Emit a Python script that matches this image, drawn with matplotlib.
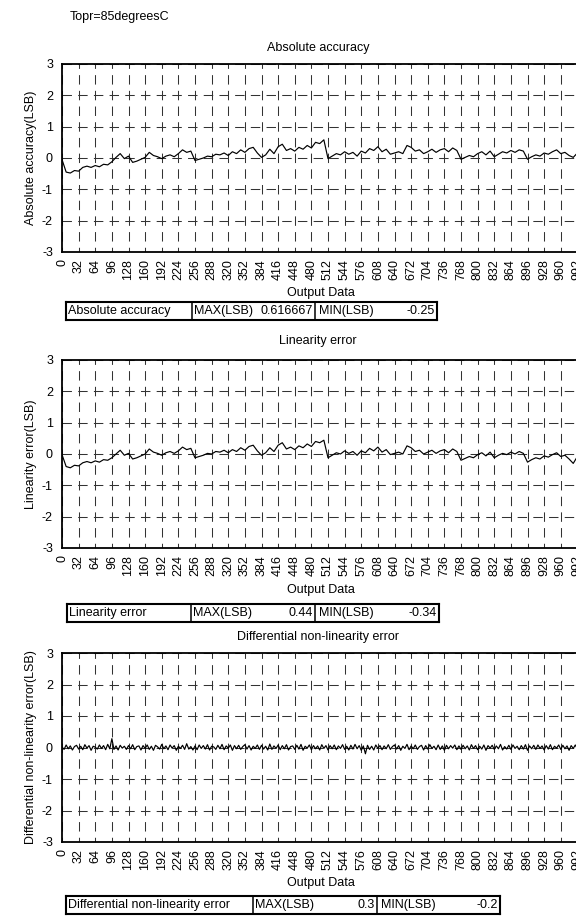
import numpy as np
import matplotlib
matplotlib.use("Agg")
import matplotlib.pyplot as plt

plt.rcParams['font.family'] = ['Liberation Sans', 'DejaVu Sans']
plt.rcParams['lines.scale_dashes'] = False
plt.rcParams['axes.unicode_minus'] = False

# ---- data ----
codes8 = np.arange(0, 1024, 8)
codes4 = np.arange(0, 1024, 4)

abs_acc = [
    -0.05, -0.45, -0.48, -0.40, -0.42, -0.30, -0.26, -0.30, -0.24, -0.28, -0.20, -0.22, -0.12, 0.02, 0.14, -0.02,
    0.06, -0.14, -0.10, -0.04, 0.02, 0.18, 0.08, 0.04, -0.02, 0.06, 0.10, 0.04, 0.14, 0.26, 0.18, 0.22,
    -0.08, -0.04, 0.00, 0.06, 0.04, 0.12, 0.10, 0.16, 0.08, 0.20, 0.14, 0.26, 0.18, 0.30, 0.34, 0.16,
    0.02, 0.10, 0.28, 0.14, 0.36, 0.44, 0.24, 0.30, 0.22, 0.34, 0.28, 0.40, 0.32, 0.50, 0.46, 0.58,
    -0.02, 0.06, 0.14, 0.10, 0.20, 0.12, 0.18, 0.06, 0.22, 0.16, 0.30, 0.24, 0.36, 0.20, 0.28, 0.12,
    0.16, 0.20, 0.14, 0.40, 0.34, 0.22, 0.26, 0.14, 0.20, 0.28, 0.18, 0.26, 0.30, 0.20, 0.32, 0.24,
    -0.04, 0.02, 0.08, 0.04, 0.14, 0.20, 0.10, 0.22, 0.04, 0.12, 0.20, 0.16, 0.24, 0.18, 0.26, 0.22,
    -0.04, 0.04, 0.10, 0.06, 0.16, 0.12, 0.20, 0.26, 0.14, 0.18, 0.08, 0.02, 0.16, 0.20, 0.14, 0.22,
]

lin_err = [
    -0.02, -0.40, -0.44, -0.36, -0.38, -0.28, -0.24, -0.28, -0.22, -0.26, -0.18, -0.20, -0.12, 0.00, 0.12, -0.04,
    0.02, -0.16, -0.12, -0.06, 0.00, 0.16, 0.06, 0.02, -0.04, 0.04, 0.08, 0.02, 0.10, 0.22, 0.14, 0.18,
    -0.12, -0.08, -0.04, 0.02, 0.00, 0.08, 0.06, 0.12, 0.04, 0.14, 0.08, 0.20, 0.12, 0.24, 0.28, 0.10,
    -0.04, 0.04, 0.20, 0.08, 0.28, 0.36, 0.16, 0.22, 0.14, 0.26, 0.20, 0.32, 0.24, 0.40, 0.36, 0.44,
    -0.12, -0.04, 0.04, 0.00, 0.10, 0.02, 0.08, -0.04, 0.10, 0.04, 0.18, 0.10, 0.22, 0.06, 0.14, -0.02,
    0.02, 0.06, 0.00, 0.26, 0.20, 0.08, 0.12, 0.00, 0.06, 0.12, 0.02, 0.10, 0.14, 0.04, 0.16, 0.08,
    -0.20, -0.14, -0.08, -0.12, -0.02, 0.04, -0.06, 0.06, -0.12, -0.04, 0.02, -0.02, 0.06, 0.00, 0.08, 0.02,
    -0.26, -0.18, -0.12, -0.16, -0.06, -0.10, -0.02, 0.04, -0.08, -0.04, -0.16, -0.30, -0.08, -0.04, -0.10, -0.02,
]

dnl_err = [
    0.02, -0.06, 0.08, -0.04, 0.05, -0.08, 0.03, 0.07, -0.05, 0.04, -0.07, 0.09, -0.02, 0.06, -0.09, 0.04,
    0.01, -0.05, 0.08, -0.03, 0.06, -0.07, 0.10, -0.04, 0.28, -0.06, 0.05, -0.08, 0.07, -0.02, 0.04, -0.06,
    0.06, -0.04, 0.09, -0.07, 0.03, 0.05, -0.08, 0.06, -0.03, 0.08, -0.06, 0.04, -0.09, 0.07, 0.02, -0.05,
    0.10, -0.04, 0.05, -0.07, 0.08, -0.02, 0.06, -0.09, 0.04, -0.03, 0.07, -0.06, 0.12, -0.05, 0.03, -0.08,
    0.05, -0.07, 0.08, -0.03, 0.06, -0.05, 0.09, -0.08, 0.04, 0.02, -0.06, 0.07, -0.04, 0.10, -0.07, 0.05,
    -0.02, 0.08, -0.09, 0.06, -0.04, 0.07, -0.06, 0.03, 0.09, -0.05, 0.06, -0.08, 0.04, -0.03, 0.08, -0.06,
    0.07, -0.05, 0.04, -0.08, 0.11, -0.06, 0.05, -0.03, 0.08, -0.07, 0.06, -0.04, 0.09, -0.08, 0.03, 0.05,
    -0.06, 0.07, -0.05, 0.10, -0.09, 0.04, -0.02, 0.08, -0.07, 0.06, -0.04, 0.05, -0.08, 0.09, -0.03, 0.06,
    -0.08, 0.06, -0.04, 0.08, -0.07, 0.05, -0.03, 0.09, -0.06, 0.04, -0.08, 0.07, -0.05, 0.10, -0.04, 0.06,
    -0.09, 0.05, -0.20, 0.07, -0.06, 0.04, -0.08, 0.08, -0.03, 0.06, -0.07, 0.05, -0.04, 0.09, -0.06, 0.03,
    0.08, -0.05, 0.06, -0.09, 0.04, -0.03, 0.10, -0.07, 0.05, -0.04, 0.08, -0.06, 0.03, 0.07, -0.08, 0.06,
    -0.05, 0.09, -0.03, 0.04, -0.07, 0.08, -0.06, 0.05, -0.09, 0.07, -0.04, 0.06, -0.02, 0.08, -0.07, 0.05,
    -0.06, 0.07, -0.04, 0.05, -0.08, 0.09, -0.03, 0.06, -0.07, 0.04, -0.05, 0.08, -0.09, 0.06, -0.02, 0.07,
    -0.06, 0.05, -0.04, 0.10, -0.08, 0.03, -0.05, 0.07, -0.06, 0.08, -0.03, 0.04, -0.07, 0.06, -0.05, 0.09,
    -0.09, 0.05, -0.04, 0.07, -0.06, 0.08, -0.03, 0.05, -0.08, 0.06, -0.05, 0.09, -0.07, 0.04, -0.02, 0.08,
    -0.06, 0.07, -0.04, 0.05, -0.09, 0.06, -0.03, 0.08, -0.05, 0.07, -0.06, 0.04, -0.08, 0.06, -0.03, 0.05,
]

xticks = list(range(0, 1024, 32))
yticks = [-3, -2, -1, 0, 1, 2, 3]

titles = ['Absolute accuracy', 'Linearity error', 'Differential non-linearity error']
ylabels = ['Absolute accuracy(LSB)', 'Linearity error(LSB)', 'Differential non-linearity error(LSB)']
max_vals = ['0.616667', '0.44', '0.3']
min_vals = ['-0.25', '-0.34', '-0.2']

FS = 9

# ---- layout (pixels) ----
W, H = 576, 916
fig = plt.figure(figsize=(W / 100, H / 100), dpi=100)

def fx(px):
    return px / W

def fy(py):
    return 1 - py / H

ax_left, ax_right = 62, 593.5
panels = [(64, 252), (360, 548), (653, 842)]
title_y = [48, 341, 637]
xlabel_y = [293, 590, 883]
tables = [(302, 320, [66, 192, 315, 437]),
          (604, 622, [67, 191, 315, 439]),
          (896, 914, [66, 253, 377, 500])]

series = [(codes8, abs_acc), (codes8, lin_err), (codes4, dnl_err)]

fig.text(fx(70), fy(17), 'Topr=85degreesC', fontsize=FS, ha='left', va='center')

for i in range(3):
    top, bot = panels[i]
    ax = fig.add_axes([fx(ax_left), fy(bot), (ax_right - ax_left) / W, (bot - top) / H])
    x, y = series[i]
    ax.plot(x, y, color='black', lw=0.85, zorder=3)
    ax.set_xlim(0, 1023)
    ax.set_ylim(-3, 3)
    ax.set_xticks(xticks)
    ax.set_xticklabels([str(t) for t in xticks], rotation=90)
    ax.set_yticks(yticks)
    ax.tick_params(length=0, labelsize=FS)
    ax.tick_params(axis='x', pad=5)
    ax.tick_params(axis='y', pad=6.5)
    ax.xaxis.grid(True, color='#333333', lw=0.75, linestyle=(3.4, (6.8, 4.5)))
    ax.yaxis.grid(True, color='#333333', lw=0.75, linestyle=(0, (6.8, 4.5)))
    for sp in ax.spines.values():
        sp.set_linewidth(1.3)
        sp.set_color('black')
    ax.set_ylabel(ylabels[i], fontsize=FS)
    ax.yaxis.set_label_coords((37 - ax_left) / (ax_right - ax_left), 0.5)

    fig.text(fx(318), fy(title_y[i]), titles[i], fontsize=FS, ha='center', va='center')
    fig.text(fx(321), fy(xlabel_y[i]), 'Output Data', fontsize=FS, ha='center', va='center')

    # summary box under each panel
    t0, t1, cols = tables[i]
    tax = fig.add_axes([fx(cols[0]), fy(t1), (cols[3] - cols[0]) / W, (t1 - t0) / H])
    tax.set_xlim(cols[0], cols[3])
    tax.set_ylim(t1, t0)
    tax.set_xticks([])
    tax.set_yticks([])
    for sp in tax.spines.values():
        sp.set_linewidth(1.5)
        sp.set_color('black')
    for c in cols[1:3]:
        tax.plot([c, c], [t0, t1], color='black', lw=1.1)
    ym = (t0 + t1) / 2
    tax.text(cols[0] + 2, ym, titles[i], fontsize=FS, ha='left', va='center')
    tax.text(cols[1] + 2, ym, 'MAX(LSB)', fontsize=FS, ha='left', va='center')
    tax.text(cols[2] - 2, ym, max_vals[i], fontsize=FS, ha='right', va='center')
    tax.text(cols[2] + 4, ym, 'MIN(LSB)', fontsize=FS, ha='left', va='center')
    tax.text(cols[3] - 2, ym, min_vals[i], fontsize=FS, ha='right', va='center')

fig.savefig('out.png', dpi=100)
